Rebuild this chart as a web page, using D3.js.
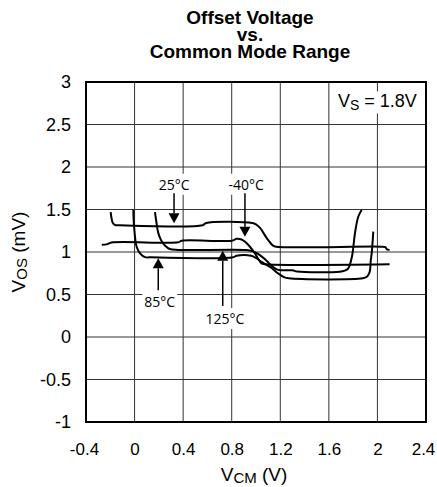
<!DOCTYPE html>
<html>
<head>
<meta charset="utf-8">
<script src="https://cdn.jsdelivr.net/npm/d3@7"></script>
<style>
  html, body { margin: 0; padding: 0; background: #fff; }
  svg { display: block; }
</style>
</head>
<body>
<svg id="chart" width="437" height="487"></svg>
<script>
// ---- Data (VCM in V, VOS in mV) ----
const xTicks = [-0.4, 0, 0.4, 0.8, 1.2, 1.6, 2, 2.4];
const xTickLabels = ["-0.4", "0", "0.4", "0.8", "1.2", "1.6", "2", "2.4"];
const yTicks = [-1, -0.5, 0, 0.5, 1, 1.5, 2, 2.5, 3];
const yTickLabels = ["-1", "-0.5", "0", "0.5", "1", "1.5", "2", "2.5", "3"];

const series25 = [[-0.197,1.47],[-0.19,1.40],[-0.18,1.345],[-0.16,1.318],[-0.12,1.315],[0.56,1.315],[0.59,1.342],[0.97,1.342],[1.00,1.325],[1.035,1.28],[1.09,1.16],[1.14,1.075],[1.17,1.062],[2.03,1.062],[2.065,1.056],[2.08,1.03],[2.10,1.025]];
const seriesM40 = [[-0.27,1.085],[-0.23,1.09],[-0.19,1.112],[0.36,1.114],[0.39,1.133],[0.80,1.133],[0.84,1.155],[0.875,1.15],[0.91,1.12],[0.95,1.062],[0.99,0.985],[1.02,0.915],[1.045,0.866],[1.08,0.855],[2.10,0.855]];
const series125 = [[0.168,1.47],[0.18,1.35],[0.195,1.225],[0.218,1.14],[0.25,1.076],[0.29,1.035],[0.36,1.024],[0.92,1.024],[0.97,1.01],[1.02,0.975],[1.07,0.92],[1.12,0.85],[1.17,0.795],[1.21,0.785],[1.30,0.785],[1.34,0.77],[1.69,0.768],[1.73,0.78],[1.76,0.808],[1.79,0.945],[1.815,1.22],[1.842,1.415],[1.87,1.494]];
const series85 = [[-0.01,1.494],[-0.005,1.318],[0.017,1.062],[0.045,0.985],[0.086,0.94],[0.127,0.937],[0.81,0.937],[0.84,0.955],[0.96,0.955],[1.0,0.93],[1.05,0.88],[1.12,0.82],[1.18,0.75],[1.23,0.705],[1.27,0.69],[1.88,0.69],[1.91,0.705],[1.935,0.76],[1.945,0.9],[1.953,0.99],[1.966,1.24]];

// annotations: label, text centre, arrow tail, arrow tip (data units)
const annotLabels = ["25°C", "-40°C", "85°C", "125°C"];
const annotText = [[0.327,1.79],[0.92,1.79],[0.207,0.41],[0.745,0.21]];
const annotTail = [[0.325,1.69],[0.909,1.69],[0.195,0.55],[0.726,0.365]];
const annotTip = [[0.325,1.338],[0.909,1.18],[0.195,0.926],[0.726,1.015]];

// ---- Layout ----
const svg = d3.select("#chart");
const L = 86, R = 426, T = 82, B = 422;
const x = d3.scaleLinear().domain([-0.4, 2.4]).range([L, R]);
const y = d3.scaleLinear().domain([-1, 3]).range([B, T]);
const sans = "Liberation Sans, Arial, sans-serif";

// Title
const title = svg.append("text")
  .attr("text-anchor", "middle")
  .attr("font-family", sans)
  .attr("font-weight", "bold")
  .attr("font-size", 19)
  .attr("fill", "#000");
[["Offset Voltage", 24], ["vs.", 41], ["Common Mode Range", 58]].forEach(([t, yy]) => {
  title.append("tspan").attr("x", 250).attr("y", yy).text(t);
});

// Gridlines
const grid = svg.append("g").attr("stroke", "#333").attr("stroke-width", 1);
grid.selectAll("line.v").data(xTicks.slice(1, -1)).join("line")
  .attr("x1", d => x(d)).attr("x2", d => x(d)).attr("y1", T).attr("y2", B);
grid.selectAll("line.h").data(yTicks.slice(1, -1)).join("line")
  .attr("x1", L).attr("x2", R).attr("y1", d => y(d)).attr("y2", d => y(d));

// Axes (labels only, via d3 axes)
const xAxis = d3.axisBottom(x).tickValues(xTicks).tickFormat((d, i) => xTickLabels[i]).tickSize(0).tickPadding(21);
const gx = svg.append("g").attr("transform", `translate(0,${B})`).call(xAxis);
const yAxis = d3.axisLeft(y).tickValues(yTicks).tickFormat((d, i) => yTickLabels[i]).tickSize(0).tickPadding(15);
const gy = svg.append("g").attr("transform", `translate(${L},0)`).call(yAxis);
[gx, gy].forEach(g => {
  g.select(".domain").remove();
  g.selectAll("text").attr("font-family", sans).attr("fill", "#000");
});
gy.selectAll("text").attr("font-size", 18);
gx.selectAll("text").attr("font-size", 17)
  .attr("dx", (d, i) => i === xTicks.length - 1 ? -3 : (i === 0 ? -2 : 0));

// Border
svg.append("rect").attr("x", L).attr("y", T).attr("width", R - L).attr("height", B - T)
  .attr("fill", "none").attr("stroke", "#000").attr("stroke-width", 2);

// Curves
const lineC = d3.line().x(d => x(d[0])).y(d => y(d[1])).curve(d3.curveCatmullRom.alpha(0.5));
[series25, seriesM40, series125, series85].forEach(s => {
  svg.append("path").attr("d", lineC(s)).attr("fill", "none").attr("stroke", "#000").attr("stroke-width", 2);
});

// Annotations
const annFont = "Open Sans, Noto Sans, sans-serif";
annotLabels.forEach((lab, i) => {
  const cx = x(annotText[i][0]), cy = y(annotText[i][1]);
  const g = svg.append("g");
  const t = g.append("text").attr("x", cx).attr("y", cy).attr("dy", "0.35em")
    .attr("text-anchor", "middle").attr("font-family", annFont).attr("font-size", 14).attr("fill", "#000").text(lab);
  const bb = t.node().getBBox();
  g.insert("rect", "text").attr("x", bb.x - 2).attr("y", bb.y - 1).attr("width", bb.width + 4).attr("height", bb.height + 2).attr("fill", "#fff");
  const ax = x(annotTail[i][0]), ty = y(annotTail[i][1]), py = y(annotTip[i][1]);
  const dir = py > ty ? 1 : -1;
  const headLen = 10, headW = 5.5;
  svg.append("line").attr("x1", ax).attr("x2", ax).attr("y1", ty).attr("y2", py - dir * headLen)
    .attr("stroke", "#000").attr("stroke-width", 1.5);
  svg.append("path").attr("d", `M${ax},${py} L${ax - headW},${py - dir * headLen} L${ax + headW},${py - dir * headLen} Z`).attr("fill", "#000");
});

// Supply-voltage note
const vsG = svg.append("g");
const vs = vsG.append("text").attr("x", x(2.0)).attr("y", y(2.775)).attr("dy", "0.35em").attr("text-anchor", "middle")
  .attr("font-family", sans).attr("font-size", 18).attr("fill", "#000");
vs.append("tspan").text("V");
vs.append("tspan").attr("font-size", 14).attr("dy", 3).text("S");
vs.append("tspan").attr("dy", -3).text(" = 1.8V");
const vb = vs.node().getBBox();
vsG.insert("rect", "text").attr("x", vb.x - 2).attr("y", vb.y).attr("width", vb.width + 4).attr("height", vb.height).attr("fill", "#fff");

// Axis titles
const xt = svg.append("text").attr("x", 254).attr("y", 481).attr("text-anchor", "middle")
  .attr("font-family", sans).attr("font-size", 19).attr("fill", "#000");
xt.append("tspan").text("V");
xt.append("tspan").attr("font-size", 15).attr("dy", 2).text("CM");
xt.append("tspan").attr("dy", -2).text(" (V)");

const yt = svg.append("text").attr("transform", `translate(25,${y(1)}) rotate(-90)`).attr("text-anchor", "middle")
  .attr("font-family", sans).attr("font-size", 19).attr("fill", "#000");
yt.append("tspan").text("V");
yt.append("tspan").attr("font-size", 15).attr("dy", 2).text("OS");
yt.append("tspan").attr("dy", -2).text(" (mV)");
</script>
</body>
</html>
